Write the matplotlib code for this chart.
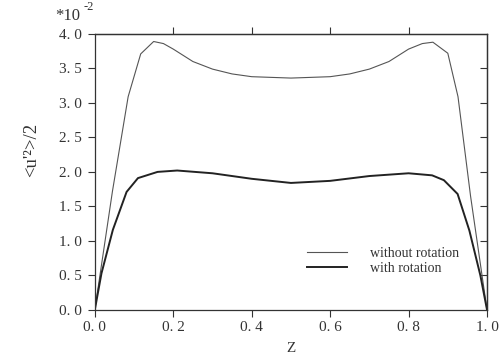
import matplotlib
matplotlib.use("Agg")
import matplotlib.pyplot as plt

# 회전 없음 (가는 선)
z_without = [0.0, 0.045, 0.085, 0.117, 0.15, 0.175, 0.2, 0.25, 0.3, 0.35, 0.4, 0.5,
             0.6, 0.65, 0.7, 0.75, 0.8, 0.835, 0.862, 0.9, 0.926, 0.958, 1.0]
u_without = [0.0, 1.72, 3.09, 3.71, 3.89, 3.86, 3.78, 3.6, 3.49, 3.42, 3.38, 3.36,
             3.38, 3.42, 3.49, 3.6, 3.78, 3.86, 3.88, 3.72, 3.09, 1.65, 0.0]

# 회전 있음 (굵은 선)
z_with = [0.0, 0.017, 0.046, 0.081, 0.11, 0.16, 0.21, 0.3, 0.4, 0.5, 0.6, 0.7,
          0.8, 0.86, 0.89, 0.925, 0.955, 0.983, 1.0]
u_with = [0.0, 0.53, 1.16, 1.71, 1.91, 2.0, 2.02, 1.98, 1.9, 1.84, 1.87, 1.94,
          1.98, 1.95, 1.88, 1.68, 1.15, 0.5, 0.0]

x_ticks = [0.0, 0.2, 0.4, 0.6, 0.8, 1.0]
x_labels = ["0. 0", "0. 2", "0. 4", "0. 6", "0. 8", "1. 0"]
y_ticks = [0.0, 0.5, 1.0, 1.5, 2.0, 2.5, 3.0, 3.5, 4.0]
y_labels = ["0. 0", "0. 5", "1. 0", "1. 5", "2. 0", "2. 5", "3. 0", "3. 5", "4. 0"]

plt.rcParams["font.family"] = "Liberation Serif"
ink = "#333333"

fig = plt.figure(figsize=(4.99, 3.57), dpi=100)
ax = fig.add_axes([0.19, 0.132, 0.786, 0.773])

ax.plot(z_without, u_without, color="#555555", linewidth=0.8, label="without rotation")
ax.plot(z_with, u_with, color="#222222", linewidth=1.4, label="with rotation")

ax.set_xlim(0, 1.0)
ax.set_ylim(0, 4.0)
ax.set_xticks(x_ticks)
ax.set_xticklabels(x_labels)
ax.set_yticks(y_ticks)
ax.set_yticklabels(y_labels)
ax.tick_params(axis="both", labelsize=11, colors=ink, length=5, width=0.8)
ax.tick_params(axis="y", direction="out", pad=4)
ax.tick_params(axis="x", direction="out", pad=3)

# 위쪽/오른쪽 눈금
axt = ax.secondary_xaxis("top")
axt.set_xticks(x_ticks[1:-1])
axt.tick_params(direction="out", length=5, width=0.8, labeltop=False, colors=ink)
axr = ax.secondary_yaxis("right")
axr.set_yticks(y_ticks[1:-1])
axr.tick_params(direction="in", length=5, width=0.8, labelright=False, colors=ink)

for sp in list(ax.spines.values()) + [axt.spines["top"], axr.spines["right"]]:
    sp.set_color(ink)
    sp.set_linewidth(0.9)

ax.set_xlabel("Z", fontsize=11, color=ink, labelpad=6)
ax.set_ylabel("<u'²>/2", fontsize=13.5, color=ink)
ax.yaxis.set_label_coords(-0.14, 0.58)

fig.text(0.11, 0.945, "*10", fontsize=12, color=ink)
fig.text(0.168, 0.972, "-2", fontsize=9, color=ink)

ax.legend(loc="lower right", bbox_to_anchor=(0.96, 0.08), frameon=False,
          fontsize=10, handlelength=2.9, handletextpad=1.6, labelspacing=0.2,
          labelcolor=ink)

fig.savefig("out.png", dpi=100)
